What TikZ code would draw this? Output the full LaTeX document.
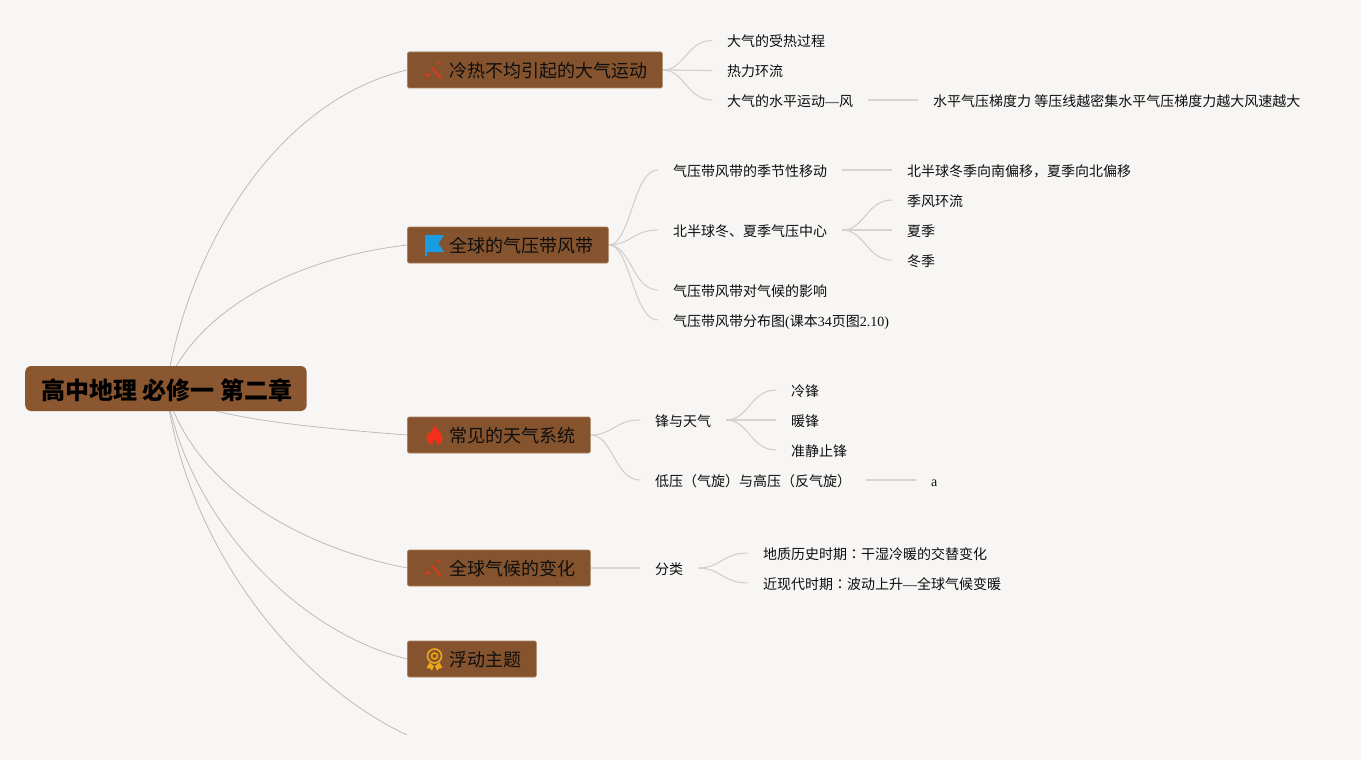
\documentclass[tikz,border=0pt]{standalone}
\usepackage{fontspec}
\setmainfont{Liberation Serif}
\newfontfamily\cjk{Noto Sans CJK SC}
\newfontfamily\cjktc{Noto Sans CJK TC}
\usetikzlibrary{backgrounds}
\definecolor{bgc}{HTML}{F7F6F4}
\definecolor{boxc}{HTML}{85542E}
\definecolor{boxb}{HTML}{A87F5C}
\definecolor{rootc}{HTML}{8A5731}
\definecolor{txt}{HTML}{0E0E0E}
\definecolor{mainl}{HTML}{BDBBB8}
\definecolor{curvl}{HTML}{CFCDCA}
\definecolor{flatl}{HTML}{D6D4D1}
\definecolor{iconred}{HTML}{D83A20}
\definecolor{iconblue}{HTML}{1B9BE0}
\definecolor{iconfire}{HTML}{F5301A}
\definecolor{icongold}{HTML}{EBA81A}
\tikzset{
  rootbox/.style={fill=rootc,rounded corners=6pt,minimum height=45pt,inner xsep=14.5pt,inner ysep=0pt,anchor=west,text=black,
    font=\cjk\bfseries\fontsize{24}{26}\selectfont,text height=23pt,text depth=2pt},
  topic/.style={fill=boxc,draw=boxb,line width=.7pt,rounded corners=1.5pt,minimum height=36pt,inner xsep=15pt,inner ysep=0pt,anchor=west,
    text=txt,font=\cjk\fontsize{18}{20}\selectfont,text height=17.7pt,text depth=2pt},
  leaf/.style={anchor=west,inner xsep=15pt,inner ysep=0pt,text=txt,font=\cjk\fontsize{14}{16}\selectfont,text height=14.6pt,text depth=2pt},
  mainline/.style={draw=mainl,line width=.8pt},
  curveline/.style={draw=curvl,line width=1pt},
  flatline/.style={draw=flatl,line width=1.3pt}
}
\newcommand{\sbend}[2]{\draw[curveline] (#1) .. controls +(22,0) and +(-25,0) .. (#2);}
\begin{document}
\begin{tikzpicture}[x=1pt,y=-1pt]
\useasboundingbox (0,0) rectangle (1361,760);
% root and topics
\node[rootbox] (root) at (25,388.5) {\kern1.5pt 高中地理 必修一 第二章};
\node[topic] (t1) at (407,70) {\kern27pt 冷热不均引起的大气运动};
\node[topic] (t2) at (407,245) {\kern27pt 全球的气压带风带};
\node[topic] (t3) at (407,435) {\kern27pt 常见的天气系统};
\node[topic] (t4) at (407,568) {\kern27pt 全球气候的变化};
\node[topic] (t5) at (407,659) {\kern27pt 浮动主题};
\coordinate (t6) at (407,735);
% leaves
\node[leaf] (a1) at (712,40.5) {大气的受热过程};
\node[leaf] (a2) at (712,70.5) {热力环流};
\node[leaf] (a3) at (712,100) {大气的水平运动{\rmfamily —}风};
\node[leaf] (a4) at (918,100) {水平气压梯度力 等压线越密集水平气压梯度力越大风速越大};
\node[leaf] (b1) at (658,170) {气压带风带的季节性移动};
\node[leaf] (b2) at (658,230) {北半球冬、夏季气压中心};
\node[leaf] (b3) at (658,290) {气压带风带对气候的影响};
\node[leaf] (b4) at (658,320) {气压带风带分布图{\rmfamily(}课本{\rmfamily 34}页图{\rmfamily 2.10)}};
\node[leaf] (b5) at (892,170) {北半球冬季向南偏移，夏季向北偏移};
\node[leaf] (b6) at (892,200) {季风环流};
\node[leaf] (b7) at (892,230) {夏季};
\node[leaf] (b8) at (892,260) {冬季};
\node[leaf] (c1) at (640,420) {锋与天气};
\node[leaf] (c2) at (640,480) {低压（气旋）与高压（反气旋）};
\node[leaf] (c3) at (776,390) {冷锋};
\node[leaf] (c4) at (776,420) {暖锋};
\node[leaf] (c5) at (776,450) {准静止锋};
\node[leaf] (c6) at (916,480) {\rmfamily a};
\node[leaf] (d1) at (640,568) {分类};
\node[leaf] (d2) at (748,553) {地质历史时期{\cjktc ：}干湿冷暖的交替变化};
\node[leaf] (d3) at (748,583) {近现代时期{\cjktc ：}波动上升{\rmfamily —}全球气候变暖};
% connectors
\begin{pgfonlayer}{background}
\fill[bgc] (0,0) rectangle (1361,760);
\draw[mainline] (root.center) .. controls (190,240) and (280,100) .. (t1.west);
\draw[mainline] (root.center) .. controls (190,320) and (280,260) .. (t2.west);
\draw[mainline] (root.center) .. controls (190,415) and (290,426) .. (t3.west);
\draw[mainline] (root.center) .. controls (190,480) and (290,545) .. (t4.west);
\draw[mainline] (root.center) .. controls (185,510) and (290,630) .. (t5.west);
\draw[mainline] (root.center) .. controls (185,540) and (290,680) .. (t6);
\sbend{t1.east}{a1.west}
\draw[flatline] (t1.east) -- (a2.west);
\sbend{t1.east}{a3.west}
\draw[flatline] (a3.east) -- (a4.west);
\sbend{t2.east}{b1.west}
\sbend{t2.east}{b2.west}
\sbend{t2.east}{b3.west}
\sbend{t2.east}{b4.west}
\draw[flatline] (b1.east) -- (b5.west);
\sbend{b2.east}{b6.west}
\draw[flatline] (b2.east) -- (b7.west);
\sbend{b2.east}{b8.west}
\sbend{t3.east}{c1.west}
\sbend{t3.east}{c2.west}
\sbend{c1.east}{c3.west}
\draw[flatline] (c1.east) -- (c4.west);
\sbend{c1.east}{c5.west}
\draw[flatline] (c2.east) -- (c6.west);
\draw[flatline] (t4.east) -- (d1.west);
\sbend{d1.east}{d2.west}
\sbend{d1.east}{d3.west}
\end{pgfonlayer}
% icons
\draw[iconred,line width=2pt] (431,67) -- (441.5,78.5);
\fill[iconred] (428,75) circle (2pt) (438.2,63) circle (1.7pt);
\draw[iconred,line width=2pt] (431,565) -- (441.5,576.5);
\fill[iconred] (428,573) circle (2pt) (438.2,561) circle (1.7pt);
\fill[iconblue] (425,235) -- (444,235) -- (438.5,243.5) -- (444,252) -- (427,252) -- (427,256) -- (425,256) -- cycle;
\fill[iconfire] (434.5,425) .. controls (435.5,429) and (442.5,433) .. (442.5,438.5)
  .. controls (442.5,442) and (440,444) .. (436.5,444.5) .. controls (437,442.5) and (436,440.5) .. (434.5,439.5)
  .. controls (433,440.5) and (432,442.5) .. (432.5,444.5) .. controls (428.5,444) and (426.5,441.5) .. (426.5,438.5)
  .. controls (426.5,436) and (427.5,434) .. (429,432) .. controls (429.5,433) and (430,433.5) .. (431,434)
  .. controls (432,431) and (433,428) .. (434.5,425) -- cycle;
\draw[icongold,line width=1.6pt] (434.5,656) circle (7pt);
\draw[icongold,line width=1.5pt] (434.5,656) circle (3pt);
\fill[icongold] (429.5,662.5) -- (426.5,668) -- (430,668.5) -- (432,670.5) -- (434,666) -- cycle
  (439.5,662.5) -- (442.5,668) -- (439,668.5) -- (437,670.5) -- (435,666) -- cycle;
\end{tikzpicture}
\end{document}
